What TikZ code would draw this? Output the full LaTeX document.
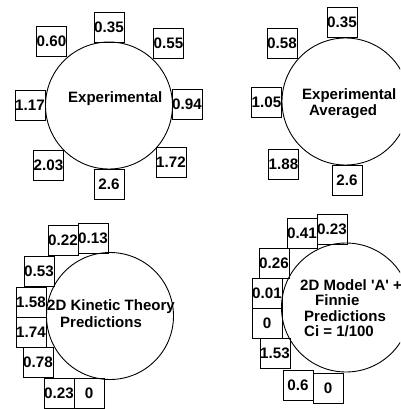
\documentclass[tikz,border=0pt]{standalone}
\usepackage{fontspec}
\setmainfont{Liberation Sans}
\tikzset{
  val/.style={draw=black, line width=0.8pt, minimum size=30pt, inner sep=0pt, font=\fontsize{15.2}{16}\selectfont\bfseries, fill=white},
  bigc/.style={draw=black, line width=0.9pt, circle, inner sep=0pt},
  lab/.style={anchor=base west, inner sep=0pt, font=\fontsize{15}{16}\selectfont\bfseries}
}
\begin{document}
\begin{tikzpicture}[x=1pt,y=-1pt]
\useasboundingbox (0,0) rectangle (400,409);
\clip (0,0) rectangle (400,409);
% Top-left: Experimental
\node[val] (a1) at (51.5,41) {0.60};
\node[val] (a2) at (109,27) {0.35};
\node[val] (a3) at (168.5,43) {0.55};
\node[val] (a4) at (30,105) {1.17};
\node[val] (a5) at (187,104) {0.94};
\node[val] (a6) at (48.5,165) {2.03};
\node[val] (a7) at (171,162) {1.72};
\node[val] (a8) at (109,184) {2.6};
\node[bigc, minimum size=127pt] (ca) at (109,105.5) {};
\node[lab] (ta) at (68,102.5) {Experimental};
% Top-right: Experimental Averaged
\node[val] (b1) at (342,22) {0.35};
\node[val] (b2) at (282,43) {0.58};
\node[val] (b3) at (266.5,102) {1.05};
\node[val] (b4) at (283.5,164) {1.88};
\node[val] (b5) at (347,180) {2.6};
\node[bigc, minimum size=127pt] (cb) at (345.5,101.5) {};
\node[lab] (tb1) at (302,99.5) {Experimental};
\node[lab] (tb2) at (309,116) {Averaged};
% Bottom-left: 2D Kinetic Theory Predictions
\node[val] (c1) at (63,240) {0.22};
\node[val] (c2) at (93,238) {0.13};
\node[val] (c3) at (39,271) {0.53};
\node[val] (c4) at (31,302) {1.58};
\node[val] (c5) at (31,332) {1.74};
\node[val] (c6) at (38,362) {0.78};
\node[val] (c7) at (59,393) {0.23};
\node[val] (c8) at (89,393) {0};
\node[bigc, minimum size=127pt] (cc) at (110,316) {};
\node[lab] (tc1) at (47,310.5) {2D Kinetic Theory};
\node[lab] (tc2) at (60,327) {Predictions};
% Bottom-right: 2D Model 'A' + Finnie Predictions
\node[val] (d1) at (302,233) {0.41};
\node[val] (d2) at (332,229) {0.23};
\node[val] (d3) at (274,263) {0.26};
\node[val] (d4) at (267,293) {0.01};
\node[val] (d5) at (267,323) {0};
\node[val] (d6) at (275,353) {1.53};
\node[val] (d7) at (298,385) {0.6};
\node[val] (d8) at (328,388) {0};
\node[bigc, minimum size=129pt] (cd) at (346,307.5) {};
\node[lab] (td1) at (300,290) {2D Model \textquotesingle A\textquotesingle\ +};
\node[lab] (td2) at (315,305.5) {Finnie};
\node[lab] (td3) at (304,321) {Predictions};
\node[lab] (td4) at (304,336.5) {Ci = 1/100};
\end{tikzpicture}
\end{document}
